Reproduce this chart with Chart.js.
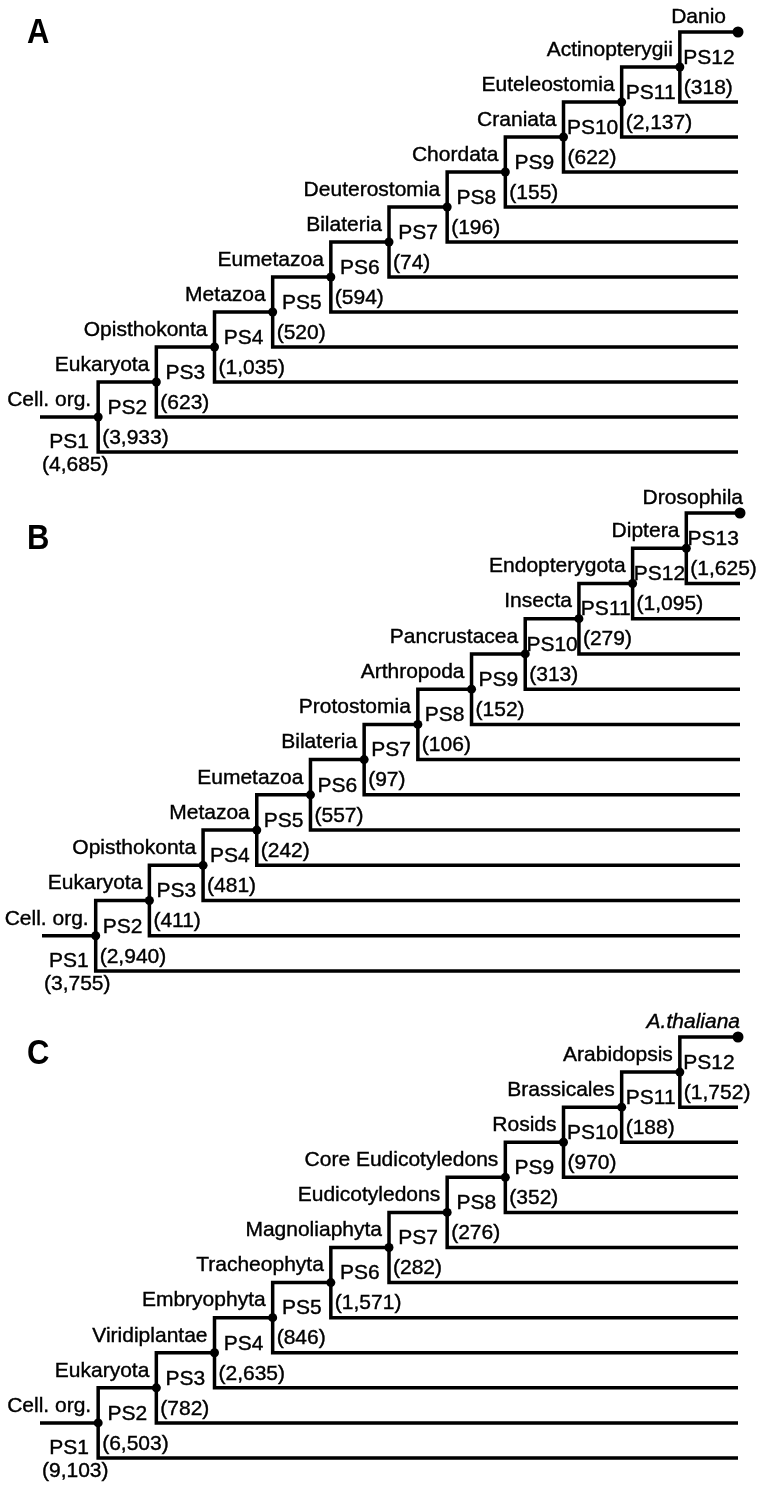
<!DOCTYPE html>
<html>
<head>
<meta charset="utf-8">
<script src="https://cdn.jsdelivr.net/npm/chart.js@4.4.1/dist/chart.umd.min.js"></script>
<style>
  body { margin: 0; background: #fff; }
  #wrap { position: relative; width: 760px; height: 1491px; }
  .panel { position: absolute; left: 0; }
</style>
</head>
<body>
<div id="wrap">
  <canvas id="panelA" class="panel" width="760" height="480" style="top:0px"></canvas>
  <canvas id="panelB" class="panel" width="760" height="520" style="top:480px"></canvas>
  <canvas id="panelC" class="panel" width="760" height="491" style="top:1000px"></canvas>
</div>
<script>
// A: Danio
const A_names = ["Cell. org.", "Eukaryota", "Opisthokonta", "Metazoa", "Eumetazoa", "Bilateria",
  "Deuterostomia", "Chordata", "Craniata", "Euteleostomia", "Actinopterygii"];
const A_leaf = "Danio";
const A_strata = ["PS1", "PS2", "PS3", "PS4", "PS5", "PS6", "PS7", "PS8", "PS9", "PS10", "PS11", "PS12"];
const A_genes = [4685, 3933, 623, 1035, 520, 594, 74, 196, 155, 622, 2137, 318];

// B: Drosophila
const B_names = ["Cell. org.", "Eukaryota", "Opisthokonta", "Metazoa", "Eumetazoa", "Bilateria",
  "Protostomia", "Arthropoda", "Pancrustacea", "Insecta", "Endopterygota", "Diptera"];
const B_leaf = "Drosophila";
const B_strata = ["PS1", "PS2", "PS3", "PS4", "PS5", "PS6", "PS7", "PS8", "PS9", "PS10", "PS11", "PS12", "PS13"];
const B_genes = [3755, 2940, 411, 481, 242, 557, 97, 106, 152, 313, 279, 1095, 1625];

// C: Arabidopsis
const C_names = ["Cell. org.", "Eukaryota", "Viridiplantae", "Embryophyta", "Tracheophyta", "Magnoliaphyta",
  "Eudicotyledons", "Core Eudicotyledons", "Rosids", "Brassicales", "Arabidopsis"];
const C_leaf = "A.thaliana";
const C_strata = ["PS1", "PS2", "PS3", "PS4", "PS5", "PS6", "PS7", "PS8", "PS9", "PS10", "PS11", "PS12"];
const C_genes = [9103, 6503, 782, 2635, 846, 1571, 282, 276, 352, 970, 188, 1752];

const FONT = '"Liberation Sans", Arial, Helvetica, sans-serif';
const SIZE = "21px ";

const panels = [
  { id: "panelA", letter: "A", names: A_names, leaf: A_leaf, strata: A_strata, genes: A_genes,
    italicLeaf: false, leafDx: -12, letterY: 33, pad: { top: 32, bottom: 28, left: 40, right: 22 } },
  { id: "panelB", letter: "B", names: B_names, leaf: B_leaf, strata: B_strata, genes: B_genes,
    italicLeaf: false, leafDx: 3, letterY: 59, pad: { top: 33, bottom: 29, left: 42, right: 20 } },
  { id: "panelC", letter: "C", names: C_names, leaf: C_leaf, strata: C_strata, genes: C_genes,
    italicLeaf: true, leafDx: 2, letterY: 54, pad: { top: 37, bottom: 33, left: 40, right: 22 } },
];

// node i sits at (i, i); its bracket runs from the lower branch (y = i-1, to the right end)
// up to the upper branch (y = i+1) which leads to the next node
function treeLines(n) {
  const pts = [{ x: 0, y: 1 }, { x: 1, y: 1 }, { x: null, y: null }];
  for (let i = 1; i <= n; i++) {
    pts.push({ x: n + 1, y: i - 1 }, { x: i, y: i - 1 }, { x: i, y: i + 1 }, { x: i + 1, y: i + 1 });
    pts.push({ x: null, y: null });
  }
  return pts;
}

function fmt(v) {
  return v.toLocaleString("en-US");
}

// text a touch heavier, like the scanned figure
function txt(ctx, s, x, y) {
  ctx.fillText(s, x, y);
  ctx.strokeText(s, x, y);
}

function labelPlugin(p) {
  return {
    id: "treeLabels",
    afterDatasetsDraw(chart) {
      const ctx = chart.ctx;
      const xs = chart.scales.x, ys = chart.scales.y;
      const n = p.names.length;
      const px = (v) => xs.getPixelForValue(v);
      const py = (v) => ys.getPixelForValue(v);
      ctx.save();
      ctx.fillStyle = "#000";
      ctx.strokeStyle = "#000";
      ctx.lineWidth = 0.4;
      ctx.textBaseline = "middle";
      ctx.font = SIZE + FONT;

      // root stratum
      ctx.textAlign = "center";
      txt(ctx, p.strata[0], (px(0) + px(1)) / 2, py(1) + 25);
      ctx.textAlign = "left";
      txt(ctx, "(" + fmt(p.genes[0]) + ")", px(0) + 2, py(1) + 48);

      for (let i = 1; i <= n; i++) {
        ctx.textAlign = "right";
        txt(ctx, p.names[i - 1], px(i) - 7, py(i) - 17);
        ctx.textAlign = "center";
        txt(ctx, p.strata[i], (px(i) + px(i + 1)) / 2, py(i) - 9);
        ctx.textAlign = "left";
        txt(ctx, "(" + fmt(p.genes[i]) + ")", px(i) + 4, py(i) + 21);
      }

      // leaf
      ctx.textAlign = "right";
      ctx.font = (p.italicLeaf ? "italic " : "") + SIZE + FONT;
      txt(ctx, p.leaf, px(n + 1) + p.leafDx, py(n + 1) - 15);

      // panel letter
      ctx.font = "bold 31px " + FONT;
      ctx.textAlign = "left";
      ctx.translate(27, p.letterY);
      ctx.scale(1, 1.13);
      ctx.fillText(p.letter, 0, 0);
      ctx.restore();
    },
  };
}

panels.forEach(function (p) {
  const n = p.names.length;
  const nodes = [];
  for (let i = 1; i <= n; i++) nodes.push({ x: i, y: i });

  new Chart(document.getElementById(p.id), {
    type: "scatter",
    data: {
      datasets: [
        {
          data: treeLines(n),
          showLine: true,
          spanGaps: false,
          borderColor: "#000",
          borderWidth: 3.5,
          borderCapStyle: "butt",
          borderJoinStyle: "miter",
          pointRadius: 0,
          tension: 0,
          clip: false,
        },
        {
          data: nodes,
          pointRadius: 4.5,
          pointBackgroundColor: "#000",
          pointBorderWidth: 0,
          clip: false,
        },
        {
          data: [{ x: n + 1, y: n + 1 }],
          pointRadius: 5.5,
          pointBackgroundColor: "#000",
          pointBorderWidth: 0,
          clip: false,
        },
      ],
    },
    options: {
      responsive: false,
      animation: false,
      devicePixelRatio: 1,
      layout: { padding: p.pad },
      plugins: { legend: { display: false }, tooltip: { enabled: false } },
      scales: {
        x: { type: "linear", min: 0, max: n + 1, display: false },
        y: { type: "linear", min: 0, max: n + 1, display: false },
      },
    },
    plugins: [labelPlugin(p)],
  });
});
</script>
</body>
</html>
